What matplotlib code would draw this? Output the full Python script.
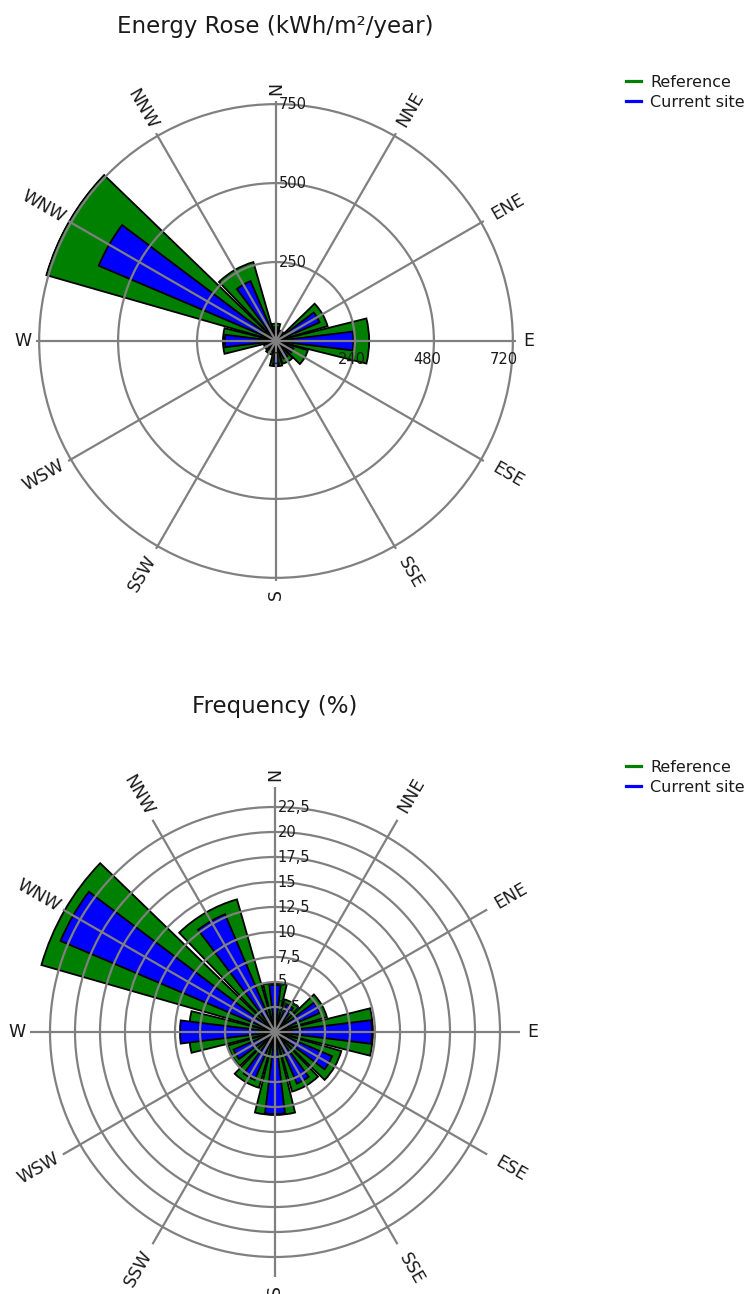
import numpy as np
import matplotlib

matplotlib.use("Agg")
import matplotlib.pyplot as plt
from matplotlib.lines import Line2D

# 12 sectors, labelled the way the source tool labels them
directions = ["N", "NNE", "ENE", "E", "ESE", "SSE", "S", "SSW", "WSW", "W", "WNW", "NNW"]
sector_deg = [0, 30, 60, 90, 120, 150, 180, 210, 240, 270, 300, 330]

# energy rose, kWh/m2/year
energy_reference = [55, 35, 170, 295, 105, 75, 80, 45, 40, 168, 757, 260]
energy_current = [45, 25, 150, 245, 60, 60, 78, 35, 30, 162, 610, 206]
energy_rings = [250, 500, 750]
energy_ring_labels = ["250", "500", "750"]
energy_east_values = [0, 240, 480, 720]
energy_east_labels = ["0", "240", "480", "720"]

# frequency, %
freq_reference = [4.9, 3.4, 5.4, 9.8, 6.9, 6.2, 8.3, 5.8, 4.9, 8.6, 24.3, 13.8]
freq_current = [4.7, 3.0, 4.9, 9.7, 6.2, 5.6, 8.2, 5.2, 4.5, 9.5, 23.3, 12.8]
freq_rings = [2.5, 5, 7.5, 10, 12.5, 15, 17.5, 20, 22.5]
freq_ring_labels = ["2,5", "5", "7,5", "10", "12,5", "15", "17,5", "20", "22,5"]

GREEN = "#008000"
BLUE = "#0000ff"
GRID = "#808080"
TEXT = "#1a1a1a"

W, H = 753, 1294
fig = plt.figure(figsize=(W / 100, H / 100), dpi=100)


def polar_axes(cx, cy, rpx):
    return fig.add_axes([(cx - rpx) / W, 1 - (cy + rpx) / H, 2 * rpx / W, 2 * rpx / H],
                        projection="polar")


def draw_rose(ax, ref, cur, rings, ring_labels, rmax, rmax_px):
    theta = np.deg2rad(sector_deg)
    ax.set_theta_zero_location("N")
    ax.set_theta_direction(-1)
    ax.bar(theta, ref, width=np.deg2rad(28), color=GREEN, edgecolor="black", linewidth=1.3)
    ax.bar(theta, cur, width=np.deg2rad(14), color=BLUE, edgecolor="black", linewidth=1.3)
    ax.set_rlim(0, rmax)
    ax.set_thetagrids(sector_deg, labels=[""] * len(sector_deg))
    ax.set_rgrids(rings, labels=[""] * len(rings))
    ax.set_axisbelow(False)
    ax.grid(True, color=GRID, linewidth=1.6)
    ax.spines["polar"].set_visible(False)
    ax.tick_params(length=0)

    for r, lbl in zip(rings, ring_labels):
        ax.annotate(lbl, xy=(0, r), xytext=(2, 0), textcoords="offset points",
                    ha="left", va="center", fontsize=10.5, color=TEXT)

    for deg, name in zip(sector_deg, directions):
        rpx = rmax_px + (13 if len(name) == 1 else 28)
        rot = 90 - deg
        rot = ((rot + 90) % 180) - 90
        if rot == -90:
            rot = 90
        ax.text(np.deg2rad(deg), rpx / rmax_px * rmax, name, rotation=rot,
                rotation_mode="anchor", ha="center", va="center",
                fontsize=12.5, color=TEXT)


def add_legend(y_top):
    handles = [Line2D([], [], color=GREEN, linewidth=2.3),
               Line2D([], [], color=BLUE, linewidth=2.3)]
    fig.legend(handles, ["Reference", "Current site"], loc="upper left",
               bbox_to_anchor=(626 / W, 1 - y_top / H), frameon=False,
               handlelength=0.95, handletextpad=0.55, labelspacing=0.3,
               fontsize=11.5, borderaxespad=0, borderpad=0, labelcolor=TEXT)


# energy rose
ax1 = polar_axes(276, 341, 240)
draw_rose(ax1, energy_reference, energy_current, energy_rings, energy_ring_labels, 760, 240)
for v, lbl in zip(energy_east_values, energy_east_labels):
    ax1.annotate(lbl, xy=(np.pi / 2, v), xytext=(0, -13), textcoords="offset points",
                 ha="center", va="center", fontsize=10.5, color=TEXT)
fig.text(275 / W, 1 - 27 / H, "Energy Rose (kWh/m\u00b2/year)", ha="center", va="center",
         fontsize=16.5, color=TEXT)
add_legend(75)

# frequency rose
ax2 = polar_axes(275, 1032, 245)
draw_rose(ax2, freq_reference, freq_current, freq_rings, freq_ring_labels, 24.5, 245)
fig.text(275 / W, 1 - 707 / H, "Frequency (%)", ha="center", va="center",
         fontsize=16.5, color=TEXT)
add_legend(760)

fig.savefig("out.png", dpi=100)
